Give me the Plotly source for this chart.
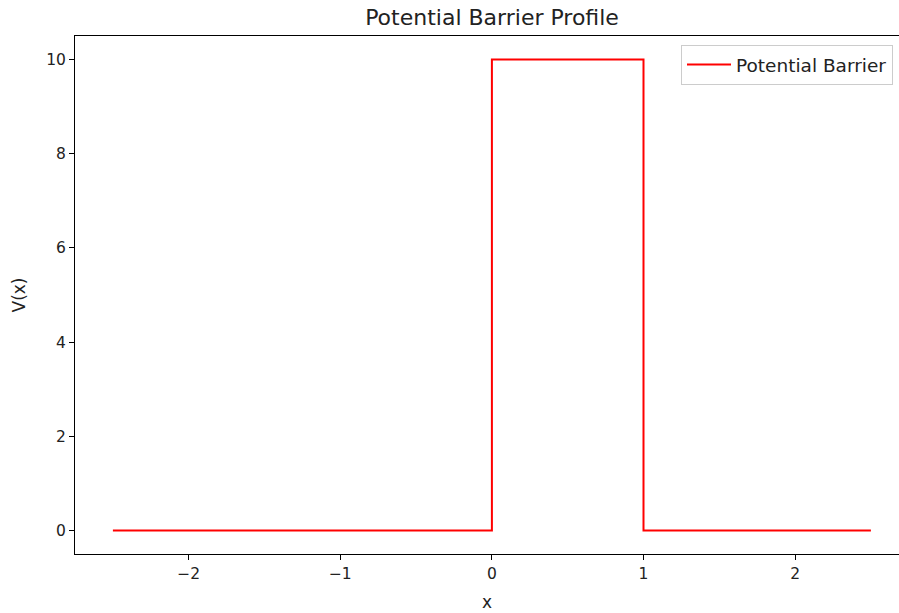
import plotly.graph_objects as go

x_vals = [-2.5, 0.0, 0.0, 1.0, 1.0, 2.5]
v_vals = [0, 0, 10, 10, 0, 0]
x_ticks = [-2, -1, 0, 1, 2]
x_tick_text = ["−2", "−1", "0", "1", "2"]
y_ticks = [0, 2, 4, 6, 8, 10]

FONT = "DejaVu Sans"

fig = go.Figure()
fig.add_trace(go.Scatter(x=x_vals, y=v_vals, mode="lines", name="Potential Barrier",
                         line=dict(color="red", width=2)))

fig.update_layout(
    width=899, height=613,
    margin=dict(l=75, r=0, t=36, b=59),
    paper_bgcolor="white", plot_bgcolor="white",
    font=dict(family=FONT, size=15.5, color="#222"),
    title=dict(text="Potential Barrier Profile", x=492 / 899, xanchor="center",
               y=1 - 17 / 613, yanchor="middle", font=dict(size=22, color="#222")),
    showlegend=True,
    legend=dict(x=(681 - 75) / 824, y=(554 - 45) / 518, xanchor="left", yanchor="top",
                bgcolor="white", bordercolor="#cccccc", borderwidth=1,
                itemwidth=44, tracegroupgap=0,
                font=dict(size=18.5, color="#222")),
)
fig.update_xaxes(range=[-2.75, (899 - 491.5) / 151.75], showgrid=False, zeroline=False,
                 showline=True, linecolor="black", linewidth=1, mirror=True,
                 ticks="outside", ticklen=5, tickcolor="black",
                 tickvals=x_ticks, ticktext=x_tick_text,
                 tickfont=dict(size=15.5),
                 title=dict(text="x", standoff=14, font=dict(size=17)))
fig.update_yaxes(range=[-0.5, 10.5], showgrid=False, zeroline=False,
                 showline=True, linecolor="black", linewidth=1, mirror=False,
                 ticks="outside", ticklen=5, tickcolor="black",
                 tickvals=y_ticks,
                 title=dict(text="V(x)", standoff=16, font=dict(size=17)))

fig.write_html("out.html")
